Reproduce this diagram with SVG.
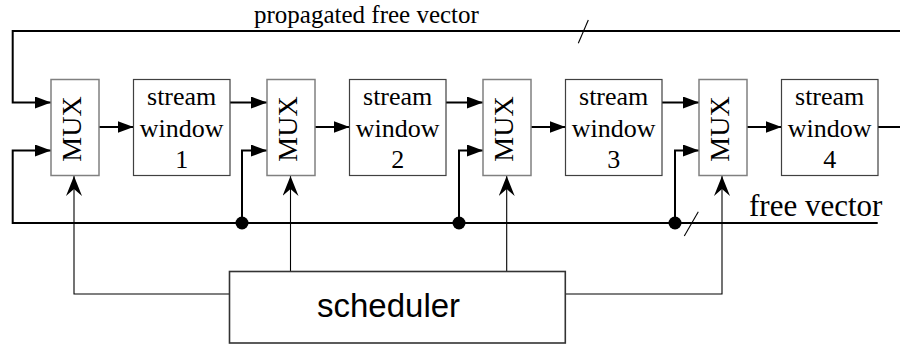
<svg xmlns="http://www.w3.org/2000/svg" width="900" height="345" viewBox="0 0 900 345">
  <style>
    .mux { fill: #fff; stroke: #808080; stroke-width: 1.5; }
    .win { fill: #fff; stroke: #404040; stroke-width: 1.2; }
    .sched { fill: #fff; stroke: #333; stroke-width: 1.6; }
    .serif { font-family: "Liberation Serif", "Times New Roman", serif; fill: #000; }
    .sans { font-family: "Liberation Sans", Arial, sans-serif; fill: #000; }
    .lbl { font-size: 26px; text-anchor: middle; }
    .thick { fill: none; stroke: #000; stroke-width: 2; }
    .thin { fill: none; stroke: #000; stroke-width: 1.1; }
  </style>
  <defs>
    <marker id="head" markerUnits="userSpaceOnUse" markerWidth="17" markerHeight="13" refX="16" refY="6" orient="auto">
      <path d="M0,0 L16,6 L0,12 z" fill="#000"/>
    </marker>
    <marker id="barb" markerUnits="userSpaceOnUse" markerWidth="21" markerHeight="17" refX="20" refY="8" orient="auto">
      <path d="M0,0 L20,8 L0,16 L7,8 z" fill="#000"/>
    </marker>
  </defs>

  <rect width="900" height="345" fill="#fff"/>

  <g id="connectors">
    <!-- propagated free vector bus -->
    <path class="thick" d="M900,31 H12.7 V102.5 H51" marker-end="url(#head)"/>
    <line class="thin" x1="588.3" y1="20" x2="578.3" y2="43.3"/>
    <!-- free vector bus -->
    <path class="thick" d="M877.7,223 H12.7 V150.5 H51" marker-end="url(#head)"/>
    <line class="thin" x1="698.3" y1="211.7" x2="684.3" y2="236"/>
    <!-- taps from the free vector to each following MUX -->
    <path class="thick" d="M242,223 V150.5 H267" marker-end="url(#head)"/>
    <path class="thick" d="M459,223 V150.5 H483" marker-end="url(#head)"/>
    <path class="thick" d="M675,223 V150.5 H699" marker-end="url(#head)"/>
    <circle cx="242" cy="223" r="6.5" fill="#000"/>
    <circle cx="459" cy="223" r="6.5" fill="#000"/>
    <circle cx="675" cy="223" r="6.5" fill="#000"/>
    <!-- MUX to stream window -->
    <line class="thick" x1="99" y1="127" x2="133.5" y2="127" marker-end="url(#head)"/>
    <line class="thick" x1="315" y1="127" x2="349.5" y2="127" marker-end="url(#head)"/>
    <line class="thick" x1="531" y1="127" x2="565.5" y2="127" marker-end="url(#head)"/>
    <line class="thick" x1="747" y1="127" x2="781.5" y2="127" marker-end="url(#head)"/>
    <!-- stream window to next MUX -->
    <line class="thick" x1="230" y1="102.5" x2="267" y2="102.5" marker-end="url(#head)"/>
    <line class="thick" x1="446" y1="102.5" x2="483" y2="102.5" marker-end="url(#head)"/>
    <line class="thick" x1="662" y1="102.5" x2="699" y2="102.5" marker-end="url(#head)"/>
    <line class="thick" x1="878" y1="127" x2="900" y2="127"/>
    <!-- scheduler select lines -->
    <path class="thin" d="M229.5,294 H74 V176" marker-end="url(#barb)"/>
    <path class="thin" d="M290.5,271.5 V176" marker-end="url(#barb)"/>
    <path class="thin" d="M506.7,271.5 V176" marker-end="url(#barb)"/>
    <path class="thin" d="M565.3,294 H722 V176" marker-end="url(#barb)"/>
  </g>

  <g id="mux1">
    <rect class="mux" x="51" y="79.5" width="48" height="96"/>
    <text class="serif lbl" transform="translate(72,129) rotate(-90)" y="9" style="font-size:28px">MUX</text>
  </g>
  <g id="mux2">
    <rect class="mux" x="267" y="79.5" width="48" height="96"/>
    <text class="serif lbl" transform="translate(288,129) rotate(-90)" y="9" style="font-size:28px">MUX</text>
  </g>
  <g id="mux3">
    <rect class="mux" x="483" y="79.5" width="48" height="96"/>
    <text class="serif lbl" transform="translate(504,129) rotate(-90)" y="9" style="font-size:28px">MUX</text>
  </g>
  <g id="mux4">
    <rect class="mux" x="699" y="79.5" width="48" height="96"/>
    <text class="serif lbl" transform="translate(720,129) rotate(-90)" y="9" style="font-size:28px">MUX</text>
  </g>

  <g id="window1">
    <rect class="win" x="133.5" y="79.5" width="96.5" height="96"/>
    <text class="serif lbl" x="181.7" y="105">stream</text>
    <text class="serif lbl" x="181.7" y="136.7">window</text>
    <text class="serif lbl" x="181.7" y="168.3">1</text>
  </g>
  <g id="window2">
    <rect class="win" x="349.5" y="79.5" width="96.5" height="96"/>
    <text class="serif lbl" x="397.7" y="105">stream</text>
    <text class="serif lbl" x="397.7" y="136.7">window</text>
    <text class="serif lbl" x="397.7" y="168.3">2</text>
  </g>
  <g id="window3">
    <rect class="win" x="565.5" y="79.5" width="96.5" height="96"/>
    <text class="serif lbl" x="613.7" y="105">stream</text>
    <text class="serif lbl" x="613.7" y="136.7">window</text>
    <text class="serif lbl" x="613.7" y="168.3">3</text>
  </g>
  <g id="window4">
    <rect class="win" x="781.5" y="79.5" width="96.5" height="96"/>
    <text class="serif lbl" x="829.7" y="105">stream</text>
    <text class="serif lbl" x="829.7" y="136.7">window</text>
    <text class="serif lbl" x="829.7" y="168.3">4</text>
  </g>

  <g id="scheduler">
    <rect class="sched" x="229.5" y="271.5" width="335.8" height="71.5"/>
    <text class="sans" x="317" y="317" style="font-size:33px">scheduler</text>
  </g>

  <g id="labels">
    <text class="serif" x="254" y="22.5" style="font-size:25px">propagated free vector</text>
    <text class="serif" x="749" y="216" style="font-size:31px">free vector</text>
  </g>
</svg>
